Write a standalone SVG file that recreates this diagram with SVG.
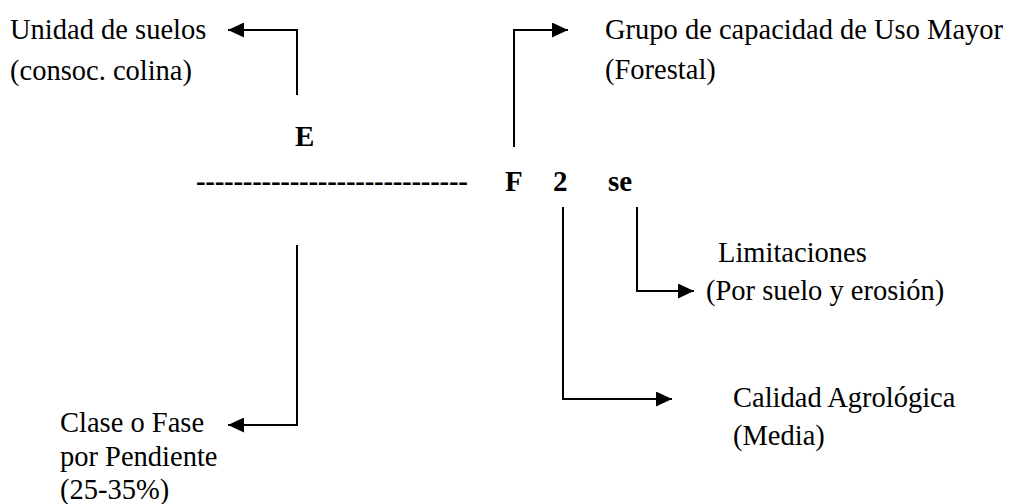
<svg xmlns="http://www.w3.org/2000/svg" width="1015" height="504" viewBox="0 0 1015 504">
<style>
.t{font-family:"Liberation Serif","Times New Roman",serif;font-size:28.5px;fill:#000}
.b{font-family:"Liberation Serif","Times New Roman",serif;font-size:29px;font-weight:bold;fill:#000}
.c{fill:none;stroke:#000;stroke-width:2}
</style>
<defs>
<marker id="ah" markerUnits="userSpaceOnUse" markerWidth="17" markerHeight="15" refX="16" refY="7.5" orient="auto">
<path d="M0,0 L16,7.5 L0,15 Z" fill="#000"/>
</marker>
</defs>
<rect width="1015" height="504" fill="#fff"/>
<g id="connectors">
<path class="c" d="M297,95 V30 H228" marker-end="url(#ah)"/>
<path class="c" d="M514,147 V30 H568" marker-end="url(#ah)"/>
<path class="c" d="M637,207 V291 H694" marker-end="url(#ah)"/>
<path class="c" d="M563,207 V399 H672" marker-end="url(#ah)"/>
<path class="c" d="M297,245 V425 H228" marker-end="url(#ah)"/>
</g>
<g id="symbol">
<text class="b" x="295" y="146">E</text>
<text class="b" x="196" y="191" textLength="272" lengthAdjust="spacing">-----------------------------</text>
<text class="b" x="505" y="191">F</text>
<text class="b" x="553" y="191">2</text>
<text class="b" x="608" y="191">se</text>
</g>
<g id="unidad">
<text class="t" x="10" y="39">Unidad de suelos</text>
<text class="t" x="10" y="80">(consoc. colina)</text>
</g>
<g id="grupo">
<text class="t" x="605" y="39">Grupo de capacidad de Uso Mayor</text>
<text class="t" x="605" y="79">(Forestal)</text>
</g>
<g id="limitaciones">
<text class="t" x="718" y="262">Limitaciones</text>
<text class="t" x="706" y="300">(Por suelo y erosión)</text>
</g>
<g id="calidad">
<text class="t" x="733" y="407">Calidad Agrológica</text>
<text class="t" x="733" y="445">(Media)</text>
</g>
<g id="clase">
<text class="t" x="60" y="432">Clase o Fase</text>
<text class="t" x="60" y="466">por Pendiente</text>
<text class="t" x="60" y="499">(25-35%)</text>
</g>
</svg>
